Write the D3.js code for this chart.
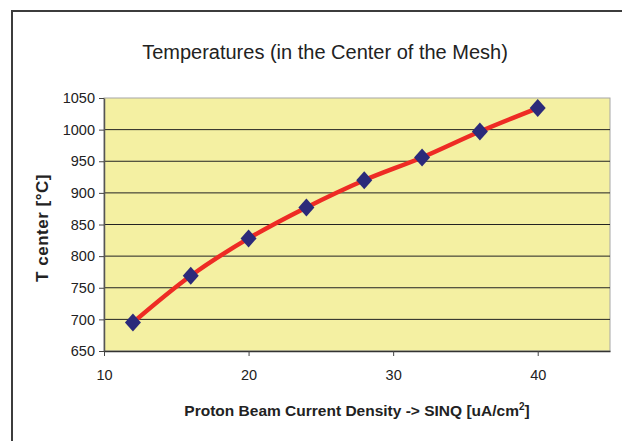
<!DOCTYPE html>
<html>
<head>
<meta charset="utf-8">
<script src="https://cdn.jsdelivr.net/npm/d3@7"></script>
<style>
    body { margin: 0; background: #fff; }
    svg { display: block; font-family: "Liberation Sans", Arial, sans-serif; }
</style>
</head>
<body>
<script>
// chart data
const currentDensity = [12, 16, 20, 24, 28, 32, 36, 40];
const tCenter = [695, 769, 828, 877, 920, 956, 997, 1034];
const xTicks = [10, 20, 30, 40];
const yTicks = [650, 700, 750, 800, 850, 900, 950, 1000, 1050];

const width = 622, height = 441;
let margin = { top: 98, right: 12, bottom: 90, left: 104 };
const plotW = 610 - margin.left, plotH = 351 - margin.top;

let svg = d3.select("body").append("svg")
    .attr("width", width)
    .attr("height", height);

// outer frame (only top and left are visible)
svg.append("path")
    .attr("d", "M12,441 L12,11 L622,11")
    .attr("fill", "none")
    .attr("stroke", "#3c3c3c")
    .attr("stroke-width", 2);

let g = svg.append("g")
    .attr("transform", "translate(" + margin.left + "," + margin.top + ")");

let xScale = d3.scaleLinear().domain([10, 45]).range([0, plotW]);
let yScale = d3.scaleLinear().domain([650, 1050]).range([plotH, 0]);

// plot background
g.append("rect")
    .attr("width", plotW)
    .attr("height", plotH)
    .attr("fill", "#f4f0a2")
    .attr("stroke", "#a6a6a6")
    .attr("stroke-width", 1);

// horizontal gridlines
g.selectAll(".grid")
    .data(yTicks.slice(1, -1))
    .enter().append("line")
    .attr("x1", 0).attr("x2", plotW)
    .attr("y1", d => yScale(d)).attr("y2", d => yScale(d))
    .attr("stroke", "#222")
    .attr("stroke-width", 1);

// y axis
let yAxis = g.append("g")
    .call(d3.axisLeft(yScale).tickValues(yTicks).tickFormat(d3.format("d"))
        .tickSize(5).tickPadding(4).tickSizeOuter(0));
yAxis.select(".domain").attr("stroke", "#555").attr("stroke-width", 1.5);
yAxis.selectAll(".tick line").attr("stroke", "#444");
yAxis.selectAll("text")
    .style("font-family", "'Liberation Sans', Arial, sans-serif")
    .style("font-size", "14.5px")
    .attr("fill", "#222");

// x axis
let xAxis = g.append("g")
    .attr("transform", "translate(0," + plotH + ")")
    .call(d3.axisBottom(xScale).tickValues(xTicks).tickFormat(d3.format("d"))
        .tickSize(5).tickPadding(14).tickSizeOuter(0));
xAxis.select(".domain").attr("stroke", "#333").attr("stroke-width", 1.5);
xAxis.selectAll(".tick line").attr("stroke", "#444");
xAxis.selectAll("text")
    .style("font-family", "'Liberation Sans', Arial, sans-serif")
    .style("font-size", "14.5px")
    .attr("fill", "#222");

// smoothed line
let line = d3.line()
    .x((d, i) => xScale(currentDensity[i]))
    .y(d => yScale(d))
    .curve(d3.curveCatmullRom.alpha(0.5));

g.append("path")
    .datum(tCenter)
    .attr("d", line)
    .attr("fill", "none")
    .attr("stroke", "#ee2b24")
    .attr("stroke-width", 4.5);

// diamond markers
g.selectAll(".pt")
    .data(tCenter)
    .enter().append("path")
    .attr("transform", (d, i) => "translate(" + xScale(currentDensity[i]) + "," + yScale(d) + ")")
    .attr("d", "M0,-9 L8,0 L0,9 L-8,0 Z")
    .attr("fill", "#2b2a7a");

// title
svg.append("text")
    .attr("x", 325)
    .attr("y", 59)
    .attr("text-anchor", "middle")
    .attr("font-size", 20)
    .attr("fill", "#222")
    .text("Temperatures (in the Center of the Mesh)");

// axis titles
let xt = svg.append("text")
    .attr("x", 357)
    .attr("y", 416)
    .attr("text-anchor", "middle")
    .attr("font-size", 15.5)
    .attr("font-weight", "bold")
    .attr("fill", "#222");
xt.append("tspan").text("Proton Beam Current Density -> SINQ [uA/cm");
xt.append("tspan").attr("font-size", 10).attr("dy", -6).text("2");
xt.append("tspan").attr("dy", 6).text("]");

svg.append("text")
    .attr("transform", "translate(48,228) rotate(-90)")
    .attr("text-anchor", "middle")
    .attr("font-size", 17)
    .attr("font-weight", "bold")
    .attr("letter-spacing", 0.5)
    .attr("fill", "#222")
    .text("T center [°C]");
</script>
</body>
</html>
